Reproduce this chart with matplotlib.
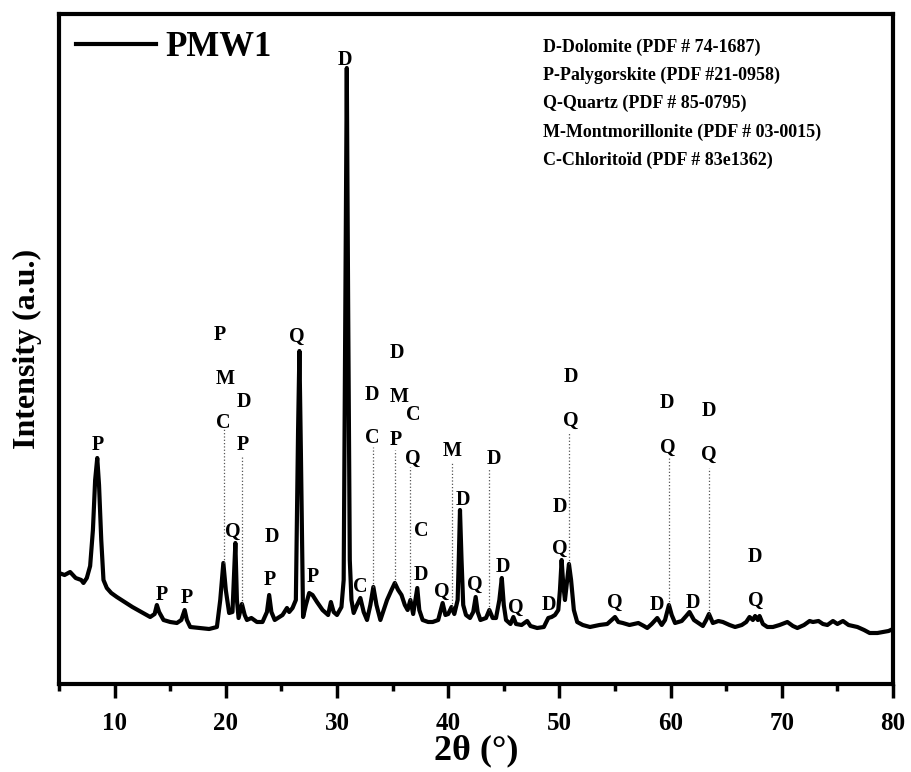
import numpy as np
import matplotlib.pyplot as plt
from matplotlib.ticker import MultipleLocator

plt.rcParams['font.family'] = ['Liberation Serif', 'DejaVu Serif']
plt.rcParams['font.weight'] = 'bold'

# 2theta / intensity points of the PMW1 pattern
two_theta = [5.0, 5.5, 6.0, 6.5, 7.0, 7.2, 7.5, 7.8, 8.05, 8.25, 8.44, 8.6, 8.8, 9.0, 9.3,
             9.7, 10.2, 10.9, 11.6, 12.4, 13.2, 13.6, 13.8, 14.0, 14.4, 15.0, 15.6, 16.0,
             16.3, 16.5, 16.8, 17.7, 18.5, 19.2, 19.5, 19.78, 20.0, 20.3, 20.6, 20.86, 21.0,
             21.15, 21.45, 21.7, 21.9, 22.3, 22.8, 23.3, 23.7, 23.9, 24.1, 24.4, 25.1, 25.5,
             25.7, 26.0, 26.3, 26.5, 26.62, 26.75, 26.95, 27.2, 27.5, 27.8, 28.2, 28.7, 29.2,
             29.45, 29.7, 30.0, 30.4, 30.6, 30.75, 30.88, 31.0, 31.15, 31.3, 31.5, 31.8, 32.1,
             32.4, 32.7, 33.0, 33.27, 33.55, 33.9, 34.2, 34.5, 34.9, 35.2, 35.5, 35.8, 36.1,
             36.35, 36.6, 36.85, 37.05, 37.22, 37.4, 37.7, 38.2, 38.6, 39.1, 39.5, 39.75, 40.0,
             40.3, 40.55, 40.85, 40.95, 41.06, 41.2, 41.35, 41.6, 41.96, 42.25, 42.47, 42.65,
             42.9, 43.4, 43.7, 44.0, 44.3, 44.6, 44.82, 45.0, 45.2, 45.6, 45.86, 46.1, 46.6,
             47.1, 47.4, 48.0, 48.6, 49.0, 49.3, 49.6, 49.9, 50.05, 50.2, 50.35, 50.5, 50.7,
             50.86, 51.05, 51.3, 51.6, 52.1, 52.75, 53.6, 54.3, 54.7, 55.0, 55.3, 55.7, 56.3,
             57.1, 57.6, 57.9, 58.3, 58.8, 59.2, 59.5, 59.85, 60.1, 60.4, 61.0, 61.4, 61.7,
             62.1, 62.5, 62.9, 63.2, 63.45, 63.8, 64.3, 64.7, 65.3, 65.8, 66.4, 66.8, 67.1,
             67.4, 67.6, 67.85, 68.0, 68.3, 68.7, 69.2, 69.8, 70.5, 71.0, 71.4, 72.0, 72.5,
             72.8, 73.3, 73.7, 74.1, 74.6, 75.0, 75.5, 76.0, 76.8, 77.4, 77.9, 78.6, 79.1,
             79.6, 80.0]
intensity = [111, 109, 112, 106, 104, 101, 106, 118, 154, 204, 226, 199, 144, 104, 96,
             91, 87, 82, 77, 72, 67, 70, 79, 72, 64, 62, 61, 64,
             74, 64, 57, 56, 55, 57, 84, 121, 94, 71, 72, 141, 84,
             66, 80, 69, 64, 66, 62, 62, 72, 89, 72, 64, 69, 76,
             72, 76, 84, 254, 333, 234, 67, 79, 91, 89, 82, 74, 69,
             82, 72, 69, 77, 104, 384, 616, 384, 124, 84, 71, 79, 86,
             72, 64, 79, 97, 79, 64, 74, 84, 94, 101, 94, 89, 79,
             74, 84, 70, 84, 96, 74, 64, 62, 62, 64, 81, 69, 70,
             77, 70, 84, 124, 174, 124, 79, 69, 66, 72, 87, 72,
             64, 66, 74, 66, 66, 84, 106, 79, 64, 60, 67, 60, 59,
             63, 58, 56, 57, 66, 67, 69, 74, 94, 124, 99, 84, 104,
             120, 104, 74, 62, 59, 57, 59, 60, 64, 67, 62, 61, 59,
             61, 58, 56, 60, 66, 59, 64, 79, 69, 61, 63, 68, 72,
             64, 61, 58, 64, 70, 61, 63, 62, 59, 57, 59, 62, 67,
             64, 68, 64, 68, 60, 57, 57, 59, 62, 58, 56, 59, 63,
             62, 63, 60, 59, 63, 60, 63, 59, 57, 54, 51, 51, 52,
             53, 55]

# phase letters above the reflections
peak_labels = ['P', 'P', 'P', 'P', 'M', 'C', 'D', 'P', 'Q', 'D', 'P', 'Q', 'P', 'D',
               'C', 'D', 'C', 'D', 'M', 'P', 'C', 'Q', 'C', 'D', 'Q', 'M', 'D', 'Q',
               'D', 'D', 'Q', 'D', 'D', 'Q', 'D', 'Q', 'Q', 'D', 'D', 'Q', 'D', 'D',
               'Q', 'D', 'Q']
label_theta = [8.51, 14.26, 16.51, 19.48, 19.93, 19.75, 21.64, 21.55, 20.65, 24.15, 23.97,
               26.40, 27.84, 30.72, 32.07, 33.15, 33.15, 35.40, 35.58, 35.31, 36.83, 36.83,
               37.55, 37.55, 39.44, 40.34, 41.33, 42.41, 44.12, 44.93, 46.10, 49.06, 50.05,
               50.05, 51.04, 51.04, 55.0, 58.78, 59.68, 59.77, 62.01, 63.45, 63.45, 67.59,
               67.68]
label_int = [239, 89, 86, 349, 305, 261, 282, 239, 152, 147, 104, 347, 107, 624, 97, 289,
             246, 331, 287, 244, 269, 225, 153, 109, 92, 233, 184, 99, 225, 117, 76, 79,
             177, 135, 307, 263, 81, 79, 281, 236, 81, 273, 229, 127, 83]

# dotted guides from the letter stacks down to the peaks
guide_theta = [19.8, 21.45, 33.27, 35.2, 36.6, 40.3, 43.7, 50.86, 59.85, 63.45]
guide_top = [256, 229, 237, 234, 217, 222, 216, 252, 226, 216]
guide_bottom = [121, 80, 97, 101, 84, 77, 74, 120, 79, 70]

phases = ['D-Dolomite (PDF # 74-1687)',
          'P-Palygorskite (PDF #21-0958)',
          'Q-Quartz (PDF # 85-0795)',
          'M-Montmorillonite (PDF # 03-0015)',
          'C-Chloritoïd (PDF # 83e1362)']

fig = plt.figure(figsize=(9.12, 7.72), dpi=100)
ax = fig.add_axes([59 / 912, 88 / 772, 834 / 912, 670 / 772])

ax.plot(two_theta, intensity, color='black', lw=3.0, solid_joinstyle='round', label='PMW1')

ax.vlines(guide_theta, guide_bottom, guide_top, colors='#555555', linestyles=':', lw=0.9)

for t, x, y in zip(peak_labels, label_theta, label_int):
    ax.text(x, y, t, ha='center', va='center', fontsize=14.5, fontweight='bold')

for i, p in enumerate(phases):
    ax.text(0.580, 0.950 - i * 0.042, p, transform=ax.transAxes, ha='left', va='center',
            fontsize=13, fontweight='bold')

leg = ax.legend(loc='upper left', frameon=False, fontsize=25, handlelength=2.3,
                handletextpad=0.25, borderaxespad=0.3, borderpad=0.2)
for h in leg.legend_handles:
    h.set_linewidth(3)

ax.set_xlim(5, 80)
ax.set_ylim(0, 670)
ax.xaxis.set_major_locator(MultipleLocator(10))
ax.xaxis.set_minor_locator(MultipleLocator(5))
ax.set_yticks([])
ax.tick_params(axis='x', which='major', direction='out', length=10, width=2.5,
               labelsize=18, pad=10)
ax.tick_params(axis='x', which='minor', direction='out', length=5, width=2.5)
for s in ax.spines.values():
    s.set_linewidth(3)

ax.set_xlabel('2θ (°)', fontsize=26, fontweight='bold', labelpad=0)
ax.set_ylabel('Intensity (a.u.)', fontsize=23, fontweight='bold', labelpad=12)

fig.savefig('out.png', dpi=100)
